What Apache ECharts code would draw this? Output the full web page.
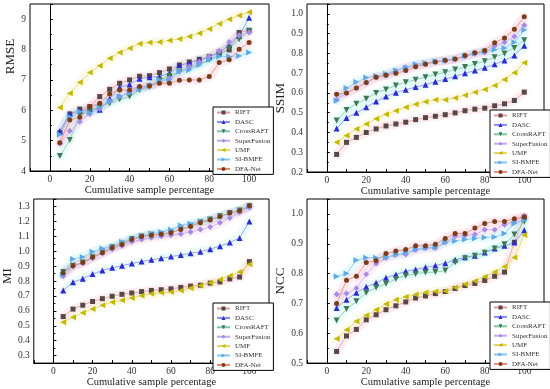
<!DOCTYPE html>
<html><head><meta charset="utf-8">
<script src="https://cdn.jsdelivr.net/npm/echarts@6/dist/echarts.min.js"></script>
<style>html,body{margin:0;padding:0;background:#fff}#c{width:550px;height:389px}</style>
</head><body><div id="c"></div>
<script>
const percentages = [5,10,15,20,25,30,35,40,45,50,55,60,65,70,75,80,85,90,95,100];
const methods = ['RIFT','DASC','CrossRAFT','SuperFusion','UMF','SI-BMFE','DFA-Net'];
const metricNames = ['RMSE','SSIM','MI','NCC'];

const RMSE_RIFT = [5.26,5.88,6.04,6.12,6.45,6.69,6.89,7.00,7.12,7.14,7.24,7.36,7.49,7.59,7.68,7.77,7.92,7.99,8.56,8.62];
const RMSE_DASC = [5.32,5.88,5.98,6.04,6.02,6.38,6.76,6.85,7.04,7.09,7.11,7.22,7.48,7.55,7.66,7.75,7.90,8.15,8.45,9.05];
const RMSE_CrossRAFT = [4.49,5.02,5.85,5.96,6.12,6.23,6.36,6.45,6.67,6.78,7.00,7.13,7.27,7.38,7.53,7.66,7.82,8.04,8.34,8.62];
const RMSE_SuperFusion = [4.91,5.32,5.62,5.88,6.05,6.30,6.45,6.60,6.74,6.82,6.93,7.05,7.28,7.44,7.60,7.77,7.95,8.25,8.47,8.56];
const RMSE_UMF = [6.09,6.56,6.92,7.24,7.47,7.71,7.90,8.04,8.19,8.23,8.25,8.30,8.35,8.43,8.54,8.68,8.85,9.00,9.12,9.23];
const RMSE_SIBMFE = [5.20,5.79,5.96,5.92,6.10,6.30,6.45,6.56,6.70,6.80,7.00,7.00,7.27,7.33,7.49,7.66,7.77,7.77,7.79,7.90];
const RMSE_DFANet = [4.93,5.68,5.77,6.12,6.23,6.54,6.67,6.67,6.78,6.80,6.89,6.89,6.99,7.00,7.00,7.11,7.57,7.66,8.01,8.23];

const SSIM_RIFT = [0.289,0.350,0.375,0.400,0.418,0.433,0.443,0.452,0.465,0.475,0.482,0.490,0.499,0.510,0.518,0.523,0.535,0.545,0.562,0.604];
const SSIM_DASC = [0.420,0.473,0.500,0.528,0.557,0.582,0.601,0.616,0.630,0.642,0.657,0.670,0.684,0.700,0.713,0.728,0.745,0.764,0.789,0.839];
const SSIM_CrossRAFT = [0.460,0.514,0.545,0.570,0.600,0.618,0.638,0.654,0.667,0.680,0.693,0.705,0.718,0.731,0.747,0.760,0.781,0.800,0.828,0.867];
const SSIM_SuperFusion = [0.565,0.600,0.625,0.652,0.680,0.690,0.712,0.730,0.740,0.748,0.758,0.762,0.770,0.785,0.798,0.805,0.837,0.857,0.885,0.942];
const SSIM_UMF = [0.350,0.385,0.418,0.443,0.470,0.492,0.510,0.528,0.543,0.555,0.565,0.566,0.575,0.588,0.604,0.618,0.638,0.668,0.702,0.753];
const SSIM_SIBMFE = [0.560,0.625,0.655,0.678,0.686,0.697,0.714,0.728,0.745,0.752,0.760,0.765,0.772,0.787,0.800,0.810,0.818,0.828,0.857,0.918];
const SSIM_DFANet = [0.594,0.600,0.625,0.653,0.679,0.689,0.700,0.713,0.733,0.745,0.757,0.766,0.772,0.789,0.803,0.815,0.854,0.878,0.922,0.985];

const MI_RIFT = [0.562,0.612,0.638,0.663,0.682,0.698,0.711,0.720,0.729,0.737,0.742,0.748,0.757,0.766,0.772,0.786,0.794,0.814,0.827,0.930];
const MI_DASC = [0.737,0.792,0.816,0.847,0.871,0.889,0.902,0.918,0.931,0.942,0.953,0.964,0.975,0.986,0.997,1.014,1.034,1.058,1.089,1.199];
const MI_CrossRAFT = [0.860,0.902,0.924,0.960,0.992,1.027,1.050,1.082,1.098,1.111,1.115,1.124,1.146,1.170,1.194,1.212,1.234,1.256,1.273,1.302];
const MI_SuperFusion = [0.832,0.898,0.920,0.953,0.986,1.014,1.036,1.063,1.078,1.091,1.100,1.107,1.115,1.129,1.146,1.162,1.190,1.223,1.260,1.293];
const MI_UMF = [0.524,0.557,0.588,0.612,0.638,0.658,0.671,0.687,0.702,0.715,0.722,0.726,0.737,0.753,0.770,0.788,0.810,0.836,0.860,0.913];
const MI_SIBMFE = [0.843,0.948,0.962,0.997,1.019,1.030,1.063,1.085,1.102,1.118,1.129,1.144,1.173,1.184,1.200,1.212,1.232,1.256,1.274,1.300];
const MI_DFANet = [0.854,0.902,0.924,0.959,0.990,1.023,1.045,1.078,1.098,1.107,1.113,1.124,1.146,1.166,1.190,1.210,1.232,1.256,1.271,1.304];

const NCC_RIFT = [0.539,0.591,0.613,0.645,0.662,0.679,0.692,0.705,0.718,0.725,0.733,0.740,0.750,0.760,0.767,0.777,0.791,0.805,0.905,0.989];
const NCC_DASC = [0.685,0.712,0.736,0.756,0.769,0.786,0.797,0.808,0.814,0.821,0.827,0.835,0.846,0.855,0.860,0.871,0.884,0.893,0.904,0.945];
const NCC_CrossRAFT = [0.643,0.681,0.707,0.736,0.753,0.766,0.782,0.793,0.799,0.804,0.805,0.810,0.838,0.851,0.860,0.870,0.884,0.898,0.931,0.975];
const NCC_SuperFusion = [0.731,0.733,0.751,0.798,0.833,0.852,0.863,0.864,0.879,0.885,0.886,0.904,0.925,0.928,0.931,0.947,0.947,0.964,0.975,0.993];
const NCC_UMF = [0.582,0.612,0.640,0.660,0.679,0.698,0.712,0.722,0.730,0.737,0.740,0.742,0.753,0.764,0.775,0.789,0.805,0.824,0.854,0.929];
const NCC_SIBMFE = [0.790,0.800,0.845,0.853,0.853,0.855,0.863,0.870,0.882,0.887,0.888,0.905,0.909,0.914,0.918,0.921,0.923,0.934,0.968,0.980];
const NCC_DFANet = [0.700,0.778,0.791,0.837,0.843,0.867,0.876,0.881,0.893,0.893,0.898,0.918,0.934,0.934,0.953,0.968,0.975,0.975,0.984,0.990];

const yTicks = {RMSE:[4,9.5,1,0], SSIM:[0.2,1.05,0.1,1], MI:[0.25,1.35,0.1,1], NCC:[0.5,1.05,0.1,1]};

const panelData = [
  [RMSE_RIFT,RMSE_DASC,RMSE_CrossRAFT,RMSE_SuperFusion,RMSE_UMF,RMSE_SIBMFE,RMSE_DFANet],
  [SSIM_RIFT,SSIM_DASC,SSIM_CrossRAFT,SSIM_SuperFusion,SSIM_UMF,SSIM_SIBMFE,SSIM_DFANet],
  [MI_RIFT,MI_DASC,MI_CrossRAFT,MI_SuperFusion,MI_UMF,MI_SIBMFE,MI_DFANet],
  [NCC_RIFT,NCC_DASC,NCC_CrossRAFT,NCC_SuperFusion,NCC_UMF,NCC_SIBMFE,NCC_DFANet]
];

const markerColors = ['#574848','#2b2bd0','#3f7a55','#a68ce6','#c4b800','#5ea8e6','#7a3d1a'];
const lineColors = ['#e59a9a','#8a8ae8','#7fc4a0','#c6a8f2','#e2d466','#86c8f0','#e28a78'];
const bandColors = ['#f4a0b8','#90e8f4','#90eef0','#f4a8d8','#f0e890','#80e8f8','#f490b0'];
const symbols = ['rect','triangle','triangle','diamond','triangle','triangle','circle'];
const rotations = [0,0,180,0,90,-90,0];
const symSizes = [5,6,6,6,6,6,5];

const FONT = '"Liberation Serif","Times New Roman",serif';
const grids = [
  {left:30, top:4, width:239, height:167},
  {left:307, top:4, width:237, height:168},
  {left:30, top:199, width:239, height:167},
  {left:307, top:199, width:237, height:168}
];
const legendPos = [
  {left:213, top:107},
  {left:490, top:110},
  {left:213, top:303},
  {left:490, top:302}
];
const yNameGap = [10, 19, 10, 19];
const yNamePad = [[0,0,0,62],[0,20,0,0],[0,0,0,10],[0,0,0,0]];

const option = {
  animation:false,
  backgroundColor:'#fff',
  grid: grids.map(g => Object.assign({show:true, borderColor:'#000', borderWidth:1, backgroundColor:'transparent'}, g)),
  xAxis: [], yAxis: [], series: [], legend: []
};

for (let p = 0; p < 4; p++) {
  const name = metricNames[p];
  const [ymin, ymax, yint, dec] = yTicks[name];
  option.xAxis.push({
    type:'value', gridIndex:p, min:-10, max:110, interval:10,
    name:'Cumulative sample percentage', nameLocation:'middle', nameGap:11,
    nameTextStyle:{fontFamily:FONT, fontSize:10.5, color:'#222'},
    axisLine:{show:true, lineStyle:{color:'#000', width:1}},
    axisTick:{show:true, inside:true, length:3, lineStyle:{color:'#000'}},
    axisLabel:{fontFamily:FONT, fontSize:9.5, color:'#333', margin:3,
      formatter: v => (Math.abs(v % 20) < 1e-6 && v >= 0 && v <= 100) ? String(v) : ''},
    splitLine:{show:false}
  });
  option.yAxis.push({
    type:'value', gridIndex:p, min:ymin, max:ymax, splitNumber: Math.round((ymax-ymin)/yint),
    name:name, nameLocation:'middle', nameGap: yNameGap[p],
    nameTextStyle:{fontFamily:FONT, fontSize:13, color:'#222', padding:yNamePad[p]},
    axisLine:{show:true, lineStyle:{color:'#000', width:1}},
    axisTick:{show:true, inside:true, length:3, lineStyle:{color:'#000'}},
    minorTick:{show:true, splitNumber:2, length:2, lineStyle:{color:'#000'}},
    axisLabel:{fontFamily:FONT, fontSize:9.5, color:'#333', margin:4,
      formatter: v => {
        const r = Math.round(v / yint) * yint;
        if (Math.abs(v - r) > 1e-6) return '';
        return dec ? r.toFixed(dec) : String(Math.round(r));
      }},
    splitLine:{show:false}
  });
  for (let m = 0; m < methods.length; m++) {
    option.series.push({
      name: methods[m] + ' band', type:'line', xAxisIndex:p, yAxisIndex:p,
      data: percentages.map((x,i)=>[x, panelData[p][m][i]]),
      symbol:'none', silent:true, z:1,
      lineStyle:{color:bandColors[m], width:9, opacity:0.18, join:'round', cap:'round'}
    });
  }
  for (let m = 0; m < methods.length; m++) {
    option.series.push({
      name: methods[m], type:'line', xAxisIndex:p, yAxisIndex:p,
      data: percentages.map((x,i)=>[x, panelData[p][m][i]]),
      symbol: symbols[m], symbolRotate: rotations[m], symbolSize: symSizes[m], z:3,
      lineStyle:{color:lineColors[m], width:0.8},
      itemStyle:{color:markerColors[m]}
    });
  }
  option.legend.push(Object.assign({
    data: methods, orient:'vertical', itemWidth:13, itemHeight:5, itemGap:2.4,
    padding:[2,3,2,3], borderColor:'#000', borderWidth:1, backgroundColor:'#fff',
    selectedMode:false, symbolRotate:'inherit',
    textStyle:{fontFamily:FONT, fontSize:7, color:'#333', lineHeight:6}
  }, legendPos[p]));
}

const chart = echarts.init(document.getElementById('c'), null, {renderer:'canvas'});
chart.setOption(option);
</script>
</body></html>
